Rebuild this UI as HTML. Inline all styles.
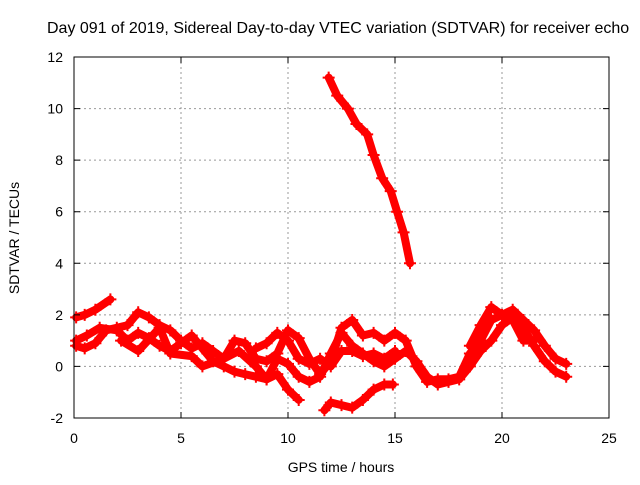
<!DOCTYPE html>
<html><head><meta charset="utf-8"><style>
body{margin:0;background:#fff;overflow:hidden;}
svg text{font-family:"Liberation Sans",sans-serif;font-size:14px;fill:#000;}
</style></head><body>
<svg id="chart" width="640" height="480" xmlns="http://www.w3.org/2000/svg">
<rect width="640" height="480" fill="#fff"/>
<text x="47" y="33" text-anchor="start" style="font-size:16px">Day 091 of 2019, Sidereal Day-to-day VTEC variation (SDTVAR) for receiver echo</text>
<g id="grid"></g>
<g id="series"></g>
<rect x="74" y="57" width="535" height="361" fill="none" stroke="#000" stroke-width="1"/>
<g id="ticks"></g>
<text x="341" y="472" text-anchor="middle">GPS time / hours</text>
<text transform="translate(19,238) rotate(-90)" text-anchor="middle">SDTVAR / TECUs</text>
</svg>
<script>
const xTicks=[0,5,10,15,20,25];
const yTicks=[-2,0,2,4,6,8,10,12];
const trackSteep=[[11.9,11.2],[12.3,10.5],[12.8,10.0],[13.2,9.4],[13.7,9.0],[14.0,8.2],[14.4,7.3],[14.8,6.8],[15.1,6.0],[15.4,5.2],[15.7,4.0]];
const trackA=[[0.1,1.9],[0.5,2.0],[1.0,2.2],[1.7,2.6]];
const trackB=[[0.1,0.8],[0.5,0.7],[1.0,0.9],[1.5,1.4],[2.0,1.5],[2.5,1.6],[3.0,2.1],[3.5,1.9],[4.0,1.6],[4.5,1.4],[5.0,1.0],[5.5,0.7],[6.0,0.9],[6.5,0.6],[7.0,0.3],[7.5,1.0],[8.0,0.9],[8.5,0.3],[9.0,0.2],[9.5,0.5],[10.0,1.4],[10.5,1.1],[11.0,0.3],[11.5,-0.3],[12.0,0.2],[12.5,1.5],[13.0,1.8],[13.5,1.2],[14.0,1.3],[14.5,1.0],[15.0,1.3],[15.5,1.0],[16.0,0.0],[16.5,-0.6],[17.0,-0.5],[17.5,-0.5],[18.0,-0.4],[18.5,0.5],[19.0,1.0],[19.5,1.8],[20.0,2.0],[20.5,2.2],[21.0,1.8],[21.5,1.4],[22.0,0.8],[22.5,0.3],[23.0,0.1]];
const trackC=[[0.1,1.0],[0.6,1.2],[1.2,1.5],[2.0,1.4],[2.5,1.0],[3.0,1.3],[3.5,1.1],[4.0,0.8],[4.5,0.6],[5.0,0.9],[5.5,1.2],[6.0,0.7],[6.5,0.2],[7.0,0.0],[7.5,-0.2],[8.0,-0.3],[8.5,-0.4],[9.0,-0.5],[9.5,-0.3],[10.0,-0.9],[10.5,-1.3]];
const trackD=[[2.2,1.0],[3.0,0.6],[4.0,1.5],[4.5,0.5],[5.5,0.4],[6.0,0.0],[7.0,0.3],[7.7,0.6],[8.5,0.0],[9.0,-0.5],[9.5,0.3],[10.0,0.1],[10.5,-0.4],[11.0,-0.6],[11.5,-0.4],[12.0,0.5],[12.5,1.3],[13.0,0.8],[13.5,0.5],[14.0,0.2],[14.5,0.0],[15.0,0.3],[15.5,0.6],[16.0,0.2],[16.5,-0.4],[17.0,-0.7],[17.5,-0.6],[18.0,-0.5],[18.5,0.0],[19.0,0.6],[19.5,1.0],[20.0,1.6],[20.5,1.9],[21.0,1.5],[21.5,0.8],[22.0,0.2],[22.5,-0.2],[23.0,-0.4]];
const trackE=[[11.7,-1.7],[12.0,-1.4],[12.5,-1.5],[13.0,-1.6],[13.5,-1.3],[14.0,-0.9],[14.5,-0.7],[14.9,-0.7]];
const trackF=[[8.5,0.7],[9.0,0.9],[9.5,1.3],[10.0,1.0],[10.5,0.3],[11.0,0.1],[11.5,0.3],[12.0,0.0],[12.5,0.6],[13.0,0.6],[13.5,0.4],[14.0,0.5],[14.5,0.3],[15.0,0.6]];
const trackG=[[18.5,0.8],[19.0,1.6],[19.5,2.3],[20.0,2.0],[20.5,1.8],[21.0,1.0],[21.5,1.0]];
const tracks=[trackSteep,trackA,trackB,trackC,trackD,trackE,trackF,trackG];

const X0=74,X1=609,Y0=418,Y1=57;
const xs=v=>X0+(v-0)/(25-0)*(X1-X0);
const ys=v=>Y0-(v+2)/(12+2)*(Y0-Y1);
const NS="http://www.w3.org/2000/svg";
const grid=document.getElementById('grid'),ticks=document.getElementById('ticks'),ser=document.getElementById('series');
function mk(tag,attrs,parent){const e=document.createElementNS(NS,tag);for(const k in attrs)e.setAttribute(k,attrs[k]);parent.appendChild(e);return e;}
xTicks.forEach(t=>{
  const x=xs(t);
  if(t>0&&t<25){const g=mk('line',{x1:x,x2:x,y1:Y1,y2:Y0,stroke:'#999','stroke-dasharray':'2,3'},grid);
  
  }
  const l=mk('path',{d:`M${x},${Y0}v-6M${x},${Y1}v6`,stroke:'#000'},ticks);
  
  
  const tx=mk('text',{x:x,y:Y0+25,'text-anchor':'middle'},ticks);tx.textContent=t;
  
  
});
yTicks.forEach(t=>{
  const y=ys(t);
  if(t>-2&&t<12){const g=mk('line',{x1:X0,x2:X1,y1:y,y2:y,stroke:'#999','stroke-dasharray':'2,3'},grid);
  
  }
  const l=mk('path',{d:`M${X0},${y}h6M${X1},${y}h-6`,stroke:'#000'},ticks);
  
  
  const tx=mk('text',{x:X0-11,y:y+5,'text-anchor':'end'},ticks);tx.textContent=t;
  
  
});
tracks.forEach((tr,i)=>{
  const d=tr.map((p,j)=>(j?'L':'M')+xs(p[0]).toFixed(1)+','+ys(p[1]).toFixed(1)).join('');
  const pl=mk('path',{d:d,fill:'none',stroke:'#f00','stroke-width':8,'stroke-linejoin':'round','stroke-linecap':'round'},ser);
  
  
  tr.forEach(p=>{
    const x=xs(p[0]),y=ys(p[1]);
    const m=mk('path',{d:`M${x-6},${y}h12M${x},${y-6}v12`,stroke:'#f00','stroke-width':2},ser);
    
    
  });
});
</script>
</body></html>
